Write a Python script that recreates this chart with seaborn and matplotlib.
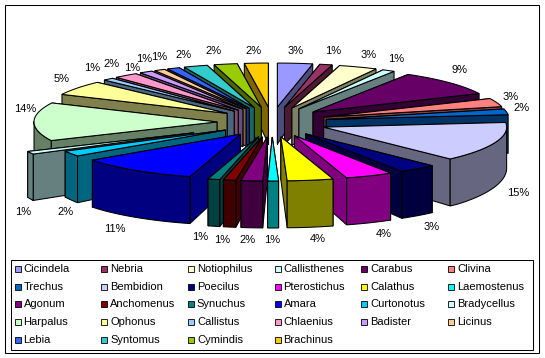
import numpy as np
import pandas as pd
import seaborn as sns
import matplotlib
matplotlib.use("Agg")
import matplotlib.pyplot as plt
from matplotlib.patches import Polygon, Rectangle

genera = ["Cicindela", "Nebria", "Notiophilus", "Callisthenes", "Carabus", "Clivina", "Trechus",
          "Bembidion", "Poecilus", "Pterostichus", "Calathus", "Laemostenus", "Agonum", "Anchomenus",
          "Synuchus", "Amara", "Curtonotus", "Bradycellus", "Harpalus", "Ophonus", "Callistus",
          "Chlaenius", "Badister", "Licinus", "Lebia", "Syntomus", "Cymindis", "Brachinus"]
shares = [3.1, 1.1, 3.4, 1.1, 9.4, 3.1, 2.1, 14.55, 3.35, 4.2, 4.05, 0.95, 1.9, 1.1,
          1.05, 10.55, 2.0, 1.05, 14.05, 5.35, 0.95, 2.14, 1.16, 0.95, 1.1, 2.1, 2.05, 2.1]
explode = [1.0] * 28
explode[17] = 1.6
slice_colors = ["#9999FF", "#993366", "#FFFFCC", "#CCFFFF", "#660066", "#FF8080", "#0066CC",
                "#CCCCFF", "#000080", "#FF00FF", "#FFFF00", "#00FFFF", "#800080", "#800000",
                "#008080", "#0000FF", "#00CCFF", "#CCFFFF", "#CCFFCC", "#FFFF99", "#99CCFF",
                "#FF99CC", "#CC99FF", "#FFCC99", "#3366FF", "#33CCCC", "#99CC00", "#FFCC00"]
# pixel centres of the percentage labels, in pie order
label_x = [296, 333, 369, 396, 460, 511, 522, 518, 432, 384, 318, 272, 247, 222,
           200, 115, 66, 23, 25, 62, 92, 112, 132, 144, 159, 183, 214, 253]
label_y = [51, 51, 55, 59, 70, 97, 108, 193, 227, 234, 239, 240, 240, 240,
           237, 229, 212, 212, 109, 79, 68, 64, 68, 59, 57, 55, 51, 51]

df = pd.DataFrame({"genus": genera, "share": shares})
df["pct"] = df["share"] / df["share"].sum() * 100
edges = np.concatenate([[0], np.cumsum(df["pct"].to_numpy())]) * 3.6

sns.set_theme(style="white")
plt.rcParams["font.family"] = ["Liberation Sans", "DejaVu Sans"]
palette = sns.color_palette(slice_colors)

W, H = 545, 358
fig = plt.figure(figsize=(W / 100, H / 100), dpi=100, facecolor="white")
ax = fig.add_axes([0, 0, 1, 1])
ax.set_xlim(0, W)
ax.set_ylim(H, 0)
ax.axis("off")

CX, CY, RX, RY, EX, EY = 272, 122, 183, 44, 55, 15
LW = 0.75


def depth(y):
    return min(47.0, 37 + (float(y) - 107) * 0.2)


def poly(pts, color, z):
    ax.add_patch(Polygon(pts, closed=True, facecolor=color, edgecolor="black",
                         linewidth=LW, zorder=z, joinstyle="miter"))


slices = []
for i, (a0, a1) in enumerate(zip(edges[:-1], edges[1:])):
    mid = np.radians((a0 + a1) / 2)
    ox, oy = EX * explode[i] * np.sin(mid), -EY * explode[i] * np.cos(mid)
    slices.append((-np.cos(mid), i, a0, a1, ox, oy))

z = 10
for key, i, a0, a1, ox, oy in sorted(slices):
    col = np.array(palette[i])
    dark = tuple(col * 0.5)
    th = np.radians(np.linspace(a0, a1, 40))
    arc_x = CX + ox + RX * np.sin(th)
    arc_y = CY + oy - RY * np.cos(th)
    apex = np.array([CX + ox, CY + oy])
    top = np.column_stack([arc_x, arc_y])
    low = np.column_stack([arc_x, arc_y + [depth(v) for v in arc_y]])
    apex_low = apex + [0, depth(apex[1])]
    # the radial wall nearer the viewer goes last
    ends = sorted([0, -1], key=lambda e: top[e][1])
    for e in ends:
        poly([apex, top[e], low[e], apex_low], dark, z)
        z += 1
    front = np.cos(th) < 0.02
    if front.any():
        poly(np.vstack([top[front], low[front][::-1]]), dark, z)
        z += 1
    poly(np.vstack([apex, top]), tuple(col), z)
    z += 1

for x, y, p in zip(label_x, label_y, df["pct"]):
    ax.text(x, y, f"{p:.0f}%", ha="center", va="center", fontsize=8, color="black", zorder=500)

# chart frame and legend
ax.add_patch(Rectangle((4.5, 4.5), 534, 348, fill=False, edgecolor="black", linewidth=LW, zorder=1))
ax.add_patch(Rectangle((10.5, 259.5), 522, 90, facecolor="white", edgecolor="black", linewidth=LW, zorder=501))
for k, (name, c) in enumerate(zip(genera, palette)):
    row, column = divmod(k, 6)
    x0 = 14.5 + column * 86.7
    y0 = 269 + row * 17.7
    ax.add_patch(Rectangle((x0, y0 - 3), 6, 6, facecolor=c, edgecolor="black", linewidth=LW * 0.8, zorder=502))
    ax.text(x0 + 9, y0, name, ha="left", va="center", fontsize=8, color="black", zorder=502)

fig.savefig("out.png", dpi=100, facecolor="white")
